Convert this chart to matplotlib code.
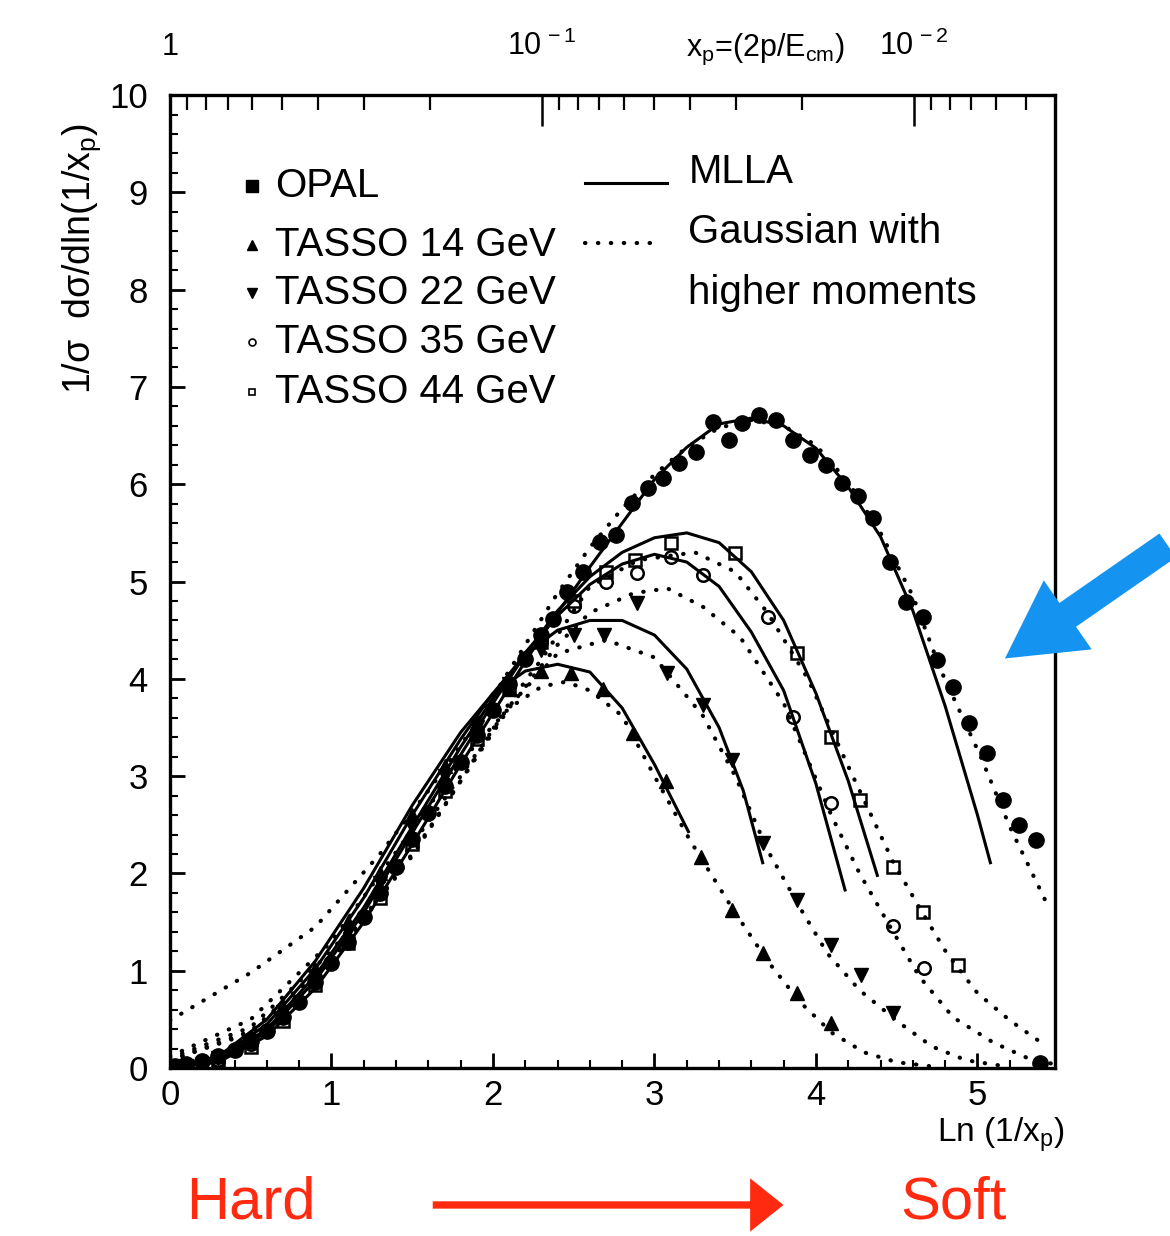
import numpy as np
import matplotlib
matplotlib.use("Agg")
import matplotlib.pyplot as plt
from matplotlib.patches import FancyArrowPatch
from matplotlib.ticker import MultipleLocator

# ---------------- data ----------------
opal_x = [0.03, 0.1, 0.2, 0.3, 0.4, 0.5, 0.6, 0.7, 0.8, 0.9, 1.0, 1.1, 1.2, 1.3, 1.4, 1.5, 1.6, 1.7,
          1.8, 1.9, 2.0, 2.1, 2.2, 2.3, 2.37, 2.46, 2.56, 2.66, 2.76, 2.86, 2.96, 3.05, 3.15, 3.26,
          3.36, 3.46, 3.54, 3.65, 3.75, 3.86, 3.96, 4.06, 4.16, 4.26, 4.35, 4.46, 4.56, 4.66, 4.75,
          4.85, 4.95, 5.06, 5.16, 5.26, 5.36, 5.39]
opal_y = [0.02, 0.04, 0.07, 0.12, 0.19, 0.28, 0.38, 0.52, 0.68, 0.88, 1.08, 1.3, 1.55, 1.8, 2.07,
          2.35, 2.62, 2.9, 3.15, 3.42, 3.68, 3.95, 4.2, 4.45, 4.62, 4.89, 5.1, 5.41, 5.48, 5.81,
          5.96, 6.06, 6.22, 6.33, 6.64, 6.45, 6.63, 6.71, 6.66, 6.45, 6.30, 6.20, 6.01, 5.88, 5.65,
          5.20, 4.79, 4.64, 4.19, 3.92, 3.55, 3.24, 2.75, 2.50, 2.34, 0.05]

t14_x = [0.1, 0.3, 0.5, 0.7, 0.9, 1.1, 1.3, 1.5, 1.7, 1.9, 2.1, 2.3, 2.48, 2.68, 2.87, 3.07,
         3.29, 3.48, 3.67, 3.88, 4.09]
t14_y = [0.03, 0.12, 0.32, 0.62, 1.02, 1.5, 2.0, 2.6, 3.1, 3.55, 3.9, 4.08, 4.06, 3.9, 3.44, 2.95,
         2.17, 1.62, 1.18, 0.77, 0.46]

t22_x = [0.1, 0.3, 0.5, 0.7, 0.9, 1.1, 1.3, 1.5, 1.7, 1.9, 2.1, 2.3, 2.5, 2.69, 2.89, 3.08, 3.3,
         3.48, 3.67, 3.88, 4.09, 4.28, 4.48]
t22_y = [0.02, 0.1, 0.28, 0.58, 0.95, 1.4, 1.9, 2.48, 3.0, 3.5, 3.95, 4.3, 4.45, 4.45, 4.78, 4.06,
         3.73, 3.17, 2.31, 1.73, 1.26, 0.96, 0.57]

t35_x = [0.1, 0.3, 0.5, 0.7, 0.9, 1.1, 1.3, 1.5, 1.7, 1.9, 2.1, 2.3, 2.5, 2.7, 2.89, 3.1, 3.3,
         3.7, 3.86, 4.09, 4.48, 4.67]
t35_y = [0.02, 0.08, 0.25, 0.52, 0.9, 1.32, 1.8, 2.35, 2.9, 3.42, 3.95, 4.4, 4.75, 5.0, 5.09, 5.25,
         5.07, 4.64, 3.61, 2.72, 1.46, 1.03]

t44_x = [0.1, 0.3, 0.5, 0.7, 0.9, 1.1, 1.3, 1.5, 1.7, 1.9, 2.1, 2.3, 2.5, 2.7, 2.88, 3.1, 3.5,
         3.88, 4.09, 4.27, 4.48, 4.66, 4.88]
t44_y = [0.02, 0.07, 0.22, 0.48, 0.85, 1.28, 1.75, 2.3, 2.85, 3.38, 3.92, 4.38, 4.8, 5.1, 5.22,
         5.4, 5.29, 4.27, 3.4, 2.75, 2.07, 1.6, 1.06]

# MLLA (solid) curves
mlla_opal_x = [0, 0.3, 0.6, 0.9, 1.2, 1.5, 1.8, 2.0, 2.2, 2.4, 2.6, 2.8, 3.0, 3.2, 3.4, 3.6, 3.8,
               4.0, 4.2, 4.4, 4.6, 4.8, 5.0, 5.08]
mlla_opal_y = [0, 0.06, 0.33, 0.82, 1.5, 2.3, 3.12, 3.65, 4.18, 4.68, 5.15, 5.6, 6.05, 6.38, 6.62,
               6.68, 6.6, 6.37, 5.97, 5.46, 4.7, 3.72, 2.6, 2.11]
mlla_14_x = [0, 0.3, 0.6, 0.9, 1.2, 1.5, 1.8, 2.0, 2.2, 2.4, 2.6, 2.8, 3.0, 3.21]
mlla_14_y = [0, 0.12, 0.5, 1.1, 1.85, 2.7, 3.45, 3.85, 4.08, 4.15, 4.07, 3.7, 3.12, 2.43]
mlla_22_x = [0, 0.3, 0.6, 0.9, 1.2, 1.5, 1.8, 2.0, 2.2, 2.4, 2.6, 2.8, 3.0, 3.2, 3.4, 3.55, 3.67]
mlla_22_y = [0, 0.1, 0.45, 1.02, 1.75, 2.6, 3.38, 3.85, 4.25, 4.5, 4.6, 4.6, 4.45, 4.1, 3.5,
             2.85, 2.11]
mlla_35_x = [0, 0.3, 0.6, 0.9, 1.2, 1.5, 1.8, 2.0, 2.2, 2.4, 2.6, 2.8, 3.0, 3.2, 3.4, 3.6, 3.8,
             4.0, 4.18]
mlla_35_y = [0, 0.08, 0.4, 0.95, 1.65, 2.48, 3.3, 3.8, 4.27, 4.65, 4.97, 5.18, 5.28, 5.2, 4.95,
             4.48, 3.88, 2.92, 1.83]
mlla_44_x = [0, 0.3, 0.6, 0.9, 1.2, 1.5, 1.8, 2.0, 2.2, 2.4, 2.6, 2.8, 3.0, 3.2, 3.4, 3.6, 3.8,
             4.0, 4.2, 4.38]
mlla_44_y = [0, 0.07, 0.37, 0.9, 1.6, 2.42, 3.22, 3.75, 4.25, 4.7, 5.05, 5.3, 5.45, 5.5, 5.4,
             5.1, 4.6, 3.85, 2.95, 1.98]

# Gaussian with higher moments (dotted) curves
gaus_opal_x = [0, 0.5, 0.9, 1.3, 1.6, 1.9, 2.2, 2.4, 2.6, 2.8, 3.0, 3.2, 3.4, 3.6, 3.8, 4.0, 4.2,
               4.4, 4.6, 4.77, 5.02, 5.2, 5.45]
gaus_opal_y = [0.49, 0.98, 1.45, 2.2, 2.85, 3.55, 4.35, 4.88, 5.35, 5.75, 6.1, 6.38, 6.58, 6.66,
               6.6, 6.4, 6.02, 5.5, 4.85, 4.1, 3.2, 2.48, 1.62]
gaus_14_x = [0, 0.5, 1.0, 1.5, 1.8, 2.1, 2.3, 2.45, 2.6, 2.8, 3.0, 3.22, 3.49, 3.7, 3.9, 4.1, 4.3,
             4.5, 4.7]
gaus_14_y = [0.12, 0.5, 1.3, 2.45, 3.15, 3.7, 3.92, 3.97, 3.88, 3.62, 3.0, 2.34, 1.62, 1.1, 0.68,
             0.36, 0.16, 0.06, 0.02]
gaus_22_x = [0, 0.5, 1.0, 1.5, 1.8, 2.1, 2.4, 2.7, 3.0, 3.3, 3.5, 3.7, 3.9, 4.07, 4.27, 4.52,
             4.72, 4.93, 5.2]
gaus_22_y = [0.1, 0.42, 1.2, 2.3, 3.0, 3.72, 4.26, 4.4, 4.22, 3.62, 3.0, 2.24, 1.65, 1.18, 0.8,
             0.46, 0.22, 0.08, 0.01]
gaus_35_x = [0, 0.5, 1.0, 1.5, 1.8, 2.1, 2.4, 2.6, 2.87, 3.08, 3.3, 3.53, 3.8, 4.1, 4.27, 4.46,
             4.64, 4.85, 5.1, 5.34, 5.48]
gaus_35_y = [0.08, 0.38, 1.12, 2.2, 2.95, 3.7, 4.35, 4.68, 4.88, 4.93, 4.74, 4.43, 3.75, 2.58,
             2.0, 1.45, 0.94, 0.52, 0.26, 0.08, 0.04]
gaus_44_x = [0, 0.5, 1.0, 1.5, 1.8, 2.1, 2.3, 2.6, 2.9, 3.25, 3.5, 3.7, 3.95, 4.2, 4.48, 4.64,
             4.81, 5.0, 5.2, 5.43]
gaus_44_y = [0.08, 0.36, 1.1, 2.18, 2.95, 3.75, 4.2, 4.95, 5.22, 5.3, 5.1, 4.68, 4.0, 3.1, 2.11,
             1.65, 1.18, 0.77, 0.49, 0.22]

legend_data = ["OPAL", "TASSO 14 GeV", "TASSO 22 GeV", "TASSO 35 GeV", "TASSO 44 GeV"]
legend_models = ["MLLA", "Gaussian with", "higher moments"]
x_ticks = [0, 1, 2, 3, 4, 5]
y_ticks = list(range(11))
top_tick_values = [1.0, 0.1, 0.01]
top_tick_labels = ["1", r"$10^{\,-1}$", r"$10^{\,-2}$"]
top_minor_values = [0.9, 0.8, 0.7, 0.6, 0.5, 0.4, 0.3, 0.2,
                    0.09, 0.08, 0.07, 0.06, 0.05, 0.04, 0.03, 0.02,
                    0.009, 0.008, 0.007, 0.006, 0.005]

# ---------------- style ----------------
plt.rcParams["font.family"] = ["Liberation Sans", "DejaVu Sans"]
plt.rcParams["mathtext.fontset"] = "custom"
plt.rcParams["mathtext.rm"] = "Liberation Sans"
plt.rcParams["mathtext.it"] = "Liberation Sans"
plt.rcParams["mathtext.sf"] = "Liberation Sans"
K = "black"

fig = plt.figure(figsize=(11.7, 12.36), dpi=100)
ax = fig.add_axes([0.1453, 0.1359, 0.7564, 0.7872])
ax.set_xlim(0, 5.48)
ax.set_ylim(0, 10)

dot_style = dict(color=K, lw=3.0, linestyle=(0, (0.1, 3.0)), dash_capstyle="round")
sol_style = dict(color=K, lw=2.2)

for gx, gy in [(gaus_opal_x, gaus_opal_y), (gaus_14_x, gaus_14_y), (gaus_22_x, gaus_22_y),
               (gaus_35_x, gaus_35_y), (gaus_44_x, gaus_44_y)]:
    ax.plot(gx, gy, **dot_style)
for mx, my in [(mlla_opal_x, mlla_opal_y), (mlla_14_x, mlla_14_y), (mlla_22_x, mlla_22_y),
               (mlla_35_x, mlla_35_y), (mlla_44_x, mlla_44_y)]:
    ax.plot(mx, my, **sol_style)

ax.plot(opal_x, opal_y, "o", color=K, ms=11, ls="none")
ax.plot(t14_x, t14_y, "^", color=K, ms=10, ls="none")
ax.plot(t22_x, t22_y, "v", color=K, ms=10, ls="none")
ax.plot(t35_x, t35_y, "o", mfc="none", mec=K, mew=1.8, ms=9, ls="none")
ax.plot(t44_x, t44_y, "s", mfc="none", mec=K, mew=1.8, ms=9, ls="none")

# ticks
ax.set_xticks(x_ticks)
ax.set_yticks(y_ticks)
ax.xaxis.set_minor_locator(MultipleLocator(0.2))
ax.yaxis.set_minor_locator(MultipleLocator(0.2))
ax.tick_params(which="both", direction="in", top=False, right=False, colors=K)
ax.tick_params(which="major", length=11, width=2.0, labelsize=25)
ax.tick_params(which="minor", length=6, width=1.5)
ax.tick_params(axis="y", which="major", pad=16)
ax.tick_params(axis="x", which="major", pad=8)
for s in ax.spines.values():
    s.set_linewidth(2.4)

ax2 = ax.twiny()
ax2.set_xlim(0, 5.48)
ax2.set_xticks([np.log(1.0 / v) for v in top_tick_values])
ax2.set_xticklabels(top_tick_labels)
ax2.set_xticks([np.log(1.0 / v) for v in top_minor_values], minor=True)
ax2.tick_params(which="both", direction="in", colors=K)
ax2.tick_params(which="major", length=22, width=1.8, pad=24, labelsize=22)
ax2.tick_params(which="minor", length=11, width=1.6)
for s in ax2.spines.values():
    s.set_visible(False)

# legend (data)
LFS = 29
leg_rows_y = [9.07, 8.46, 7.97, 7.46, 6.95]
leg_markers = [dict(marker="s", color=K, ms=8),
               dict(marker="^", color=K, ms=7),
               dict(marker="v", color=K, ms=7),
               dict(marker="o", mfc="none", mec=K, mew=1.2, ms=5),
               dict(marker="s", mfc="none", mec=K, mew=1.2, ms=5)]
for lab, yy, mk in zip(legend_data, leg_rows_y, leg_markers):
    ax.plot([0.51], [yy], ls="none", clip_on=False, **mk)
    ax.text(0.65, yy, lab, fontsize=LFS, va="center", ha="left", color=K)

# legend (models)
ax.plot([2.57, 3.08], [9.10, 9.10], **sol_style)
ax.plot([2.57, 3.04], [8.48, 8.48], **dot_style)
ax.text(3.21, 9.21, legend_models[0], fontsize=LFS, va="center", ha="left", color=K)
ax.text(3.21, 8.59, legend_models[1], fontsize=LFS, va="center", ha="left", color=K)
ax.text(3.21, 7.97, legend_models[2], fontsize=LFS, va="center", ha="left", color=K)

# axis titles
fig.text(0.070, 0.791, r"1/σ  dσ/dln(1/x$_\mathrm{p}$)", rotation=90, fontsize=27,
         ha="center", va="center", color=K)
fig.text(0.855, 0.082, r"Ln (1/x$_\mathrm{p}$)", fontsize=24, ha="center", va="center", color=K)
fig.text(0.654, 0.960, r"x$_\mathrm{p}$=(2p/E$_\mathrm{cm}$)", fontsize=22, ha="center",
         va="center", color=K)

# annotations: Hard -> Soft
RED = "#ff2a0f"
fig.text(0.214, 0.027, "Hard", fontsize=43, color=RED, ha="center", va="center")
fig.text(0.815, 0.027, "Soft", fontsize=43, color=RED, ha="center", va="center")
fig.add_artist(FancyArrowPatch((0.3675, 0.0251), (0.672, 0.0251), transform=fig.transFigure,
                               arrowstyle="simple,head_length=1.0,head_width=1.6,tail_width=0.22",
                               mutation_scale=24, color=RED, lw=0))

# blue arrow
BLUE = "#1493f0"
fig.add_artist(FancyArrowPatch((1.0, 0.560), (0.857, 0.466), transform=fig.transFigure,
                               arrowstyle="simple,head_length=1.0,head_width=1.1,tail_width=0.38",
                               mutation_scale=55, color=BLUE, lw=0))

fig.savefig("out.png", dpi=100)
